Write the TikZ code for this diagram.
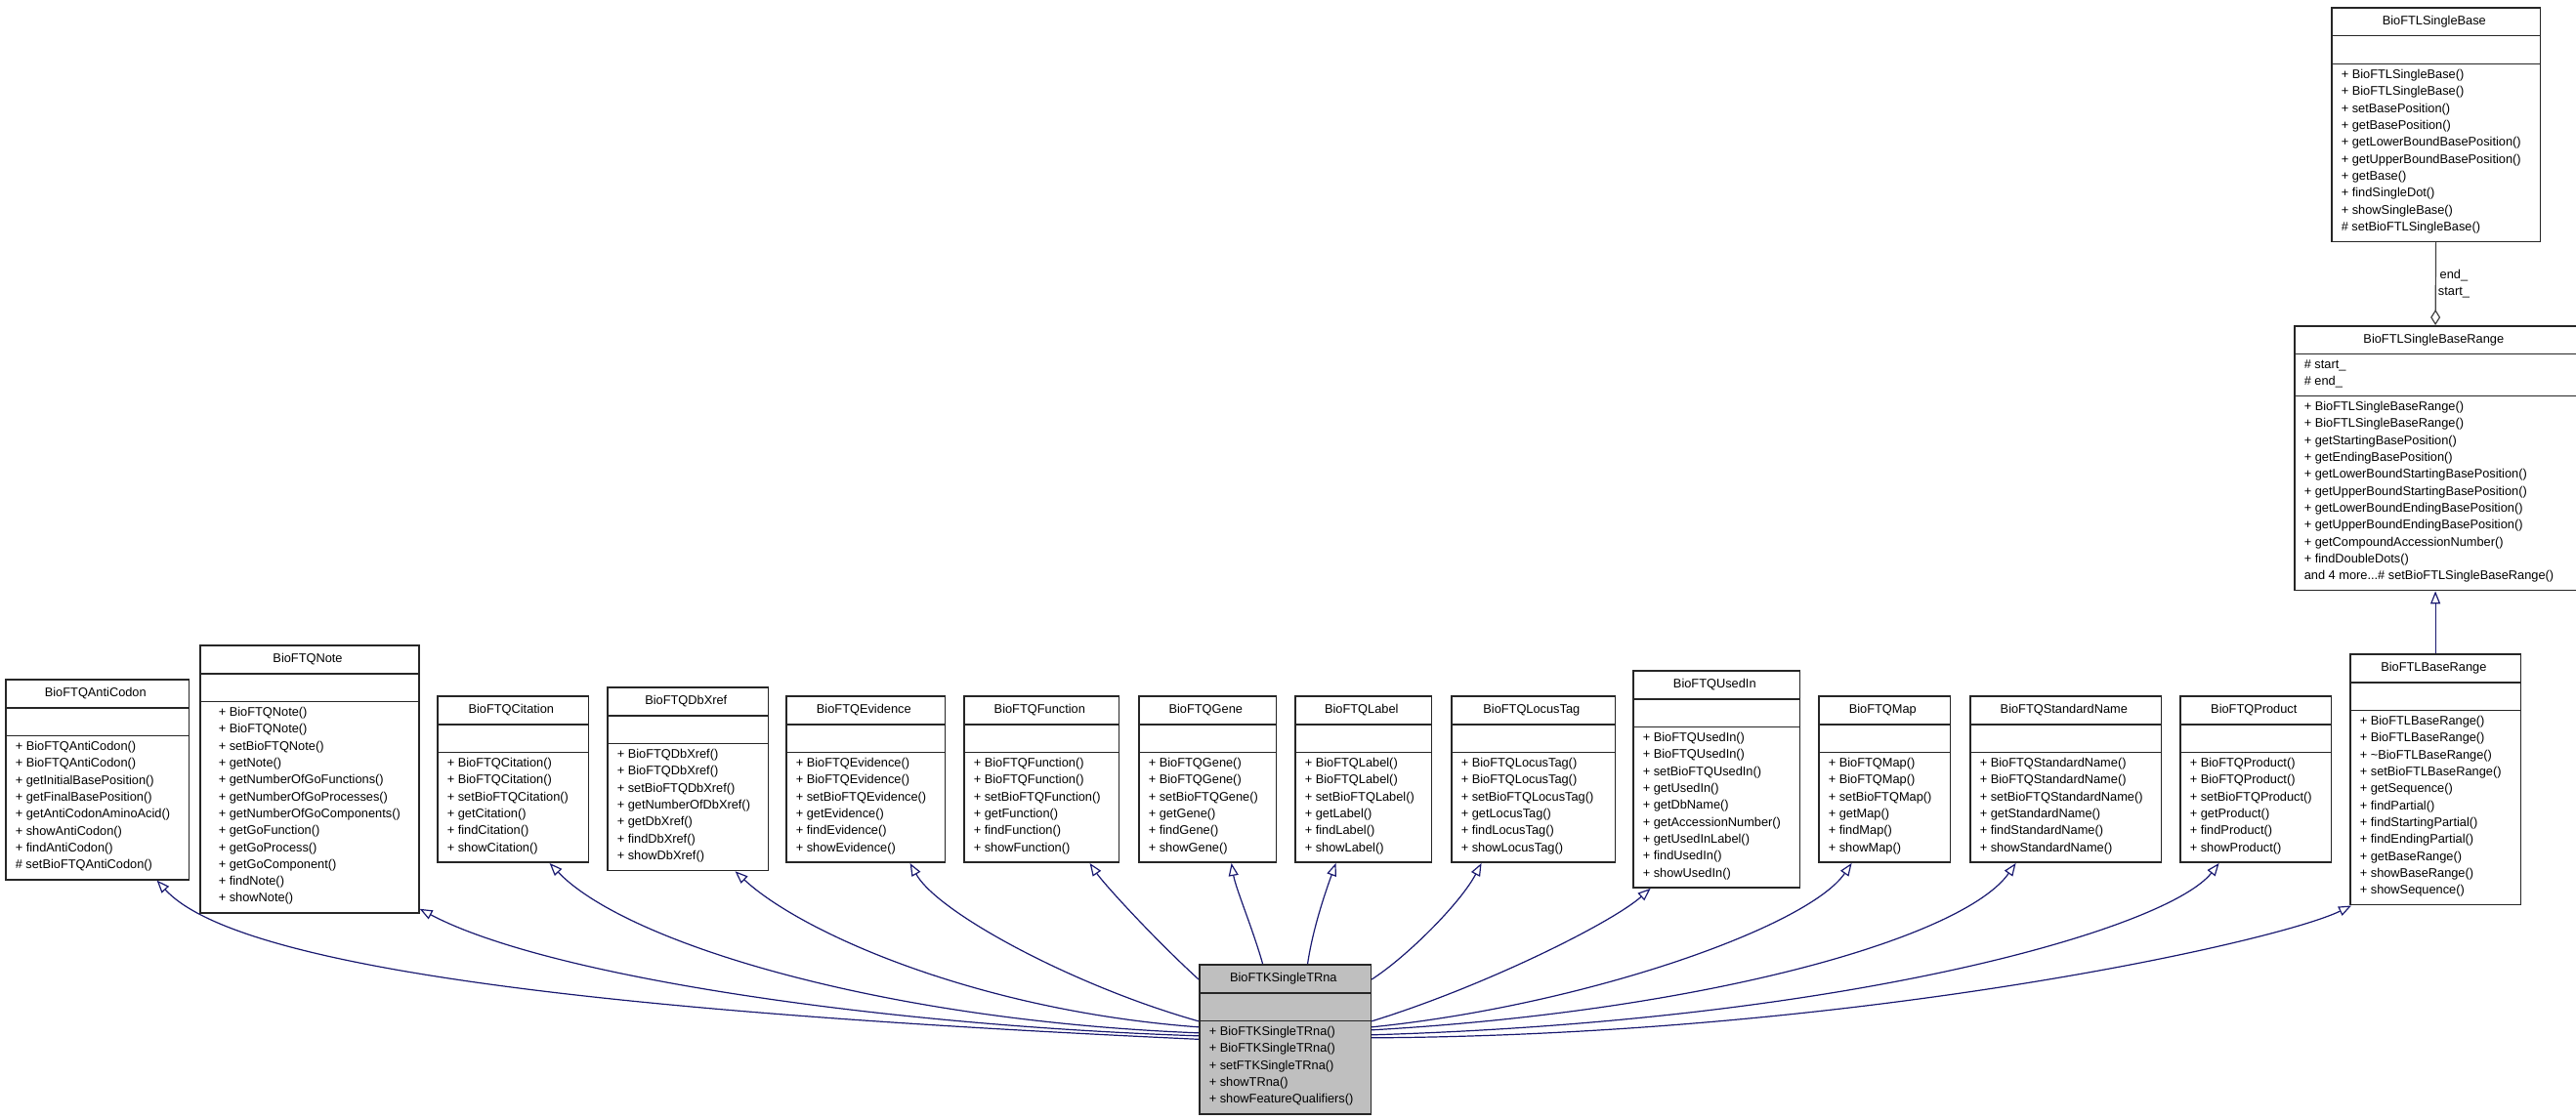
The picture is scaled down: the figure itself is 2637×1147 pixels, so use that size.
\documentclass[tikz,border=0pt]{standalone}
\usepackage{fontspec}
\setmainfont{Liberation Sans}
\usetikzlibrary{shapes.multipart,arrows.meta}
\definecolor{navy}{HTML}{191970}
\definecolor{edgegray}{HTML}{404040}

\begin{document}
\begin{tikzpicture}[x=1pt, y=-1pt,
		umlclass/.style={rectangle split, rectangle split parts=3,
			rectangle split part align={center,left,left}, align=left,
			draw=black!85, line width=1.6pt, anchor=north west,
			inner xsep=10pt, inner ysep=5pt,
			font=\fontsize{12.8}{17.3}\selectfont,
			execute at begin node=\strut, execute at end node=\strut},
		inherit/.style={draw=navy, line width=1.2pt, -{Triangle[open,length=13pt,width=10pt]}},
		member/.style={draw=edgegray, line width=1.2pt, -{Diamond[open,length=16pt,width=10pt]}}]
			\useasboundingbox (0,0) rectangle (2637,1147);
			
			% base classes at the top right
			\node[umlclass] (sbase) at (2386,7) {\makebox[190pt]{BioFTLSingleBase}
				\nodepart{two}
				\nodepart{three}+ BioFTLSingleBase()\\+ BioFTLSingleBase()\\+ setBasePosition()\\+ getBasePosition()\\+ getLowerBoundBasePosition()\\+ getUpperBoundBasePosition()\\+ getBase()\\+ findSingleDot()\\+ showSingleBase()\\\# setBioFTLSingleBase()};
			\node[umlclass] (sbrange) at (2348,333) {\makebox[265pt]{BioFTLSingleBaseRange}
				\nodepart{two}\# start\_\\\# end\_
				\nodepart{three}+ BioFTLSingleBaseRange()\\+ BioFTLSingleBaseRange()\\+ getStartingBasePosition()\\+ getEndingBasePosition()\\+ getLowerBoundStartingBasePosition()\\+ getUpperBoundStartingBasePosition()\\+ getLowerBoundEndingBasePosition()\\+ getUpperBoundEndingBasePosition()\\+ getCompoundAccessionNumber()\\+ findDoubleDots()\\and 4 more...\# setBioFTLSingleBaseRange()};
			\node[umlclass] (baserange) at (2405,669) {\makebox[151pt]{BioFTLBaseRange}
				\nodepart{two}
				\nodepart{three}+ BioFTLBaseRange()\\+ BioFTLBaseRange()\\+ \textasciitilde BioFTLBaseRange()\\+ setBioFTLBaseRange()\\+ getSequence()\\+ findPartial()\\+ findStartingPartial()\\+ findEndingPartial()\\+ getBaseRange()\\+ showBaseRange()\\+ showSequence()};
			
			% qualifier classes
			\node[umlclass] (anti) at (5,695) {\makebox[164pt]{BioFTQAntiCodon}
				\nodepart{two}
				\nodepart{three}+ BioFTQAntiCodon()\\+ BioFTQAntiCodon()\\+ getInitialBasePosition()\\+ getFinalBasePosition()\\+ getAntiCodonAminoAcid()\\+ showAntiCodon()\\+ findAntiCodon()\\\# setBioFTQAntiCodon()};
			\node[umlclass, inner xsep=19pt] (note) at (204,660) {\makebox[182pt]{BioFTQNote}
				\nodepart{two}
				\nodepart{three}+ BioFTQNote()\\+ BioFTQNote()\\+ setBioFTQNote()\\+ getNote()\\+ getNumberOfGoFunctions()\\+ getNumberOfGoProcesses()\\+ getNumberOfGoComponents()\\+ getGoFunction()\\+ getGoProcess()\\+ getGoComponent()\\+ findNote()\\+ showNote()};
			\node[umlclass] (dbx) at (621,703) {\makebox[141pt]{BioFTQDbXref}
				\nodepart{two}
				\nodepart{three}+ BioFTQDbXref()\\+ BioFTQDbXref()\\+ setBioFTQDbXref()\\+ getNumberOfDbXref()\\+ getDbXref()\\+ findDbXref()\\+ showDbXref()};
			\node[umlclass] (usedin) at (1671,686) {\makebox[147pt]{BioFTQUsedIn}
				\nodepart{two}
				\nodepart{three}+ BioFTQUsedIn()\\+ BioFTQUsedIn()\\+ setBioFTQUsedIn()\\+ getUsedIn()\\+ getDbName()\\+ getAccessionNumber()\\+ getUsedInLabel()\\+ findUsedIn()\\+ showUsedIn()};
			\foreach \q/\nm/\x/\w in {Citation/cit/447/131, Evidence/evid/804/139, Function/func/986/135,
					Gene/gene/1165/117, Label/label/1325/116, LocusTag/locus/1485/144, Map/map/1861/111,
					StandardName/stdname/2016/172, Product/product/2231/131}
				\node[umlclass] (\nm) at (\x,712) {\makebox[\w pt]{BioFTQ\q}
					\nodepart{two}
					\nodepart{three}+ BioFTQ\q()\\+ BioFTQ\q()\\+ setBioFTQ\q()\\+ get\q()\\+ find\q()\\+ show\q()};
			
			% the derived class
			\node[umlclass, fill=black!25] (trna) at (1227,987) {\makebox[152pt]{BioFTKSingleTRna}
				\nodepart{two}
				\nodepart{three}+ BioFTKSingleTRna()\\+ BioFTKSingleTRna()\\+ setFTKSingleTRna()\\+ showTRna()\\+ showFeatureQualifiers()};
			
			\draw[member] (sbase.south) -- node[right, inner sep=2pt, align=center, font=\fontsize{12.8}{17.3}\selectfont] {end\_\\start\_} (sbrange.north);
			\draw[inherit] (baserange.north) -- (sbrange.south);
			
			% left side
			\draw[inherit] (trna.west) .. controls (700,1040) and (250,1000) .. ([xshift=61pt]anti.south);
			\draw[inherit] ([yshift=3.5pt]trna.west) .. controls (900,1050) and (560,1000) .. ([yshift=5pt]note.south east);
			\draw[inherit] ([yshift=6.5pt]trna.west) .. controls (900,1045) and (640,965) .. ([xshift=37.5pt]cit.south);
			\draw[inherit] ([yshift=12.5pt]trna.west) .. controls (1000,1035) and (820,955) .. ([xshift=48.5pt]dbx.south);
			\draw[inherit] ([yshift=18.5pt]trna.west) .. controls (1100,1010) and (960,935) .. ([xshift=45.5pt]evid.south);
			\draw[inherit] ([yshift=-16pt]trna.north west) .. controls (1180,960) and (1130,905) .. ([xshift=49.5pt]func.south);
			\draw[inherit] ([xshift=-23pt]trna.north) .. controls (1282,950) and (1265,910) .. ([xshift=24.5pt]gene.south);
			\draw[inherit] ([xshift=23pt]trna.north) .. controls (1344,950) and (1358,910) .. ([xshift=-28pt]label.south);
			% right side
			\draw[inherit] ([yshift=-16pt]trna.north east) .. controls (1440,980) and (1495,925) .. ([xshift=-53pt]locus.south);
			\draw[inherit] ([yshift=18.5pt]trna.east) .. controls (1520,1010) and (1650,945) .. ([xshift=-67.5pt]usedin.south);
			\draw[inherit] ([yshift=12.5pt]trna.east) .. controls (1620,1030) and (1850,950) .. ([xshift=-33.5pt]map.south);
			\draw[inherit] ([yshift=9.5pt]trna.east) .. controls (1750,1035) and (2010,960) .. ([xshift=-51pt]stdname.south);
			\draw[inherit] ([yshift=4.5pt]trna.east) .. controls (1900,1045) and (2220,950) .. ([xshift=-37.5pt]product.south);
			\draw[inherit] ([yshift=1.5pt]trna.east) .. controls (1900,1060) and (2330,965) .. ([xshift=2pt]baserange.south west);
		\end{tikzpicture}
\end{document}
